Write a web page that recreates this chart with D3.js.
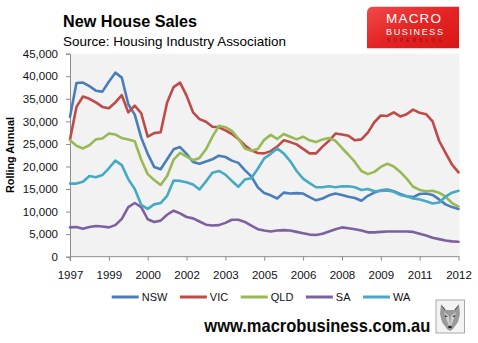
<!DOCTYPE html>
<html>
<head>
<meta charset="utf-8">
<script src="https://cdn.jsdelivr.net/npm/d3@7/dist/d3.min.js"></script>
<style>
  html, body { margin: 0; padding: 0; background: #ffffff; }
  svg { display: block; }
  text { font-family: "Liberation Sans", Arial, sans-serif; }
</style>
</head>
<body>
<svg id="chart" width="478" height="343"></svg>
<script>
// Rolling annual new house sales by state, quarterly from 1997 to 2012 (thousands)
const nsw = [31.0,38.5,38.6,37.8,36.8,36.6,38.8,40.8,39.7,33.8,31.5,26.4,22.8,19.9,19.4,21.6,23.8,24.3,22.8,21.0,
             20.6,21.1,21.6,22.4,22.1,21.3,20.8,19.2,17.8,15.4,14.1,13.6,12.9,14.2,14.0,14.1,14.0,13.2,12.5,12.9,
             13.6,14.0,13.7,13.3,13.0,12.4,13.5,14.2,14.7,14.9,14.5,13.9,13.4,13.2,13.9,14.0,13.7,12.7,11.6,11.0,10.6];
const vic = [26.0,33.2,35.5,35.0,34.2,33.2,32.9,34.2,35.8,32.0,33.5,31.8,26.6,27.4,27.6,34.2,37.6,38.6,35.7,32.0,
             30.5,29.9,28.8,28.7,28.0,27.2,26.1,24.7,23.6,23.0,22.9,23.4,24.4,25.8,25.4,24.9,23.9,22.9,22.9,24.4,
             25.7,27.3,27.1,26.8,25.8,26.0,27.5,29.8,31.3,31.2,32.0,31.1,31.6,32.6,31.9,31.6,30.0,25.7,23.0,20.4,18.7];
const qld = [25.8,24.6,24.0,24.7,26.0,26.2,27.3,27.1,26.3,26.0,25.6,21.5,18.3,17.0,15.9,17.9,21.5,23.0,22.2,21.4,
             21.9,23.8,26.6,29.0,28.7,27.9,26.2,24.0,23.5,23.9,25.9,27.0,26.1,27.2,26.6,26.0,26.6,25.8,25.4,26.0,
             26.3,25.7,24.1,22.6,21.0,19.0,18.3,18.8,19.9,20.6,20.0,18.8,17.3,15.5,14.8,14.5,14.6,14.2,13.3,11.9,11.1];
const sa  = [6.5,6.6,6.2,6.6,6.8,6.7,6.5,7.0,8.4,11.0,11.9,11.0,8.3,7.7,8.0,9.3,10.2,9.6,8.8,8.5,
             7.8,7.1,6.9,7.0,7.5,8.2,8.2,7.7,6.9,6.1,5.8,5.6,5.8,5.9,5.8,5.5,5.2,4.9,4.8,5.1,
             5.6,6.1,6.5,6.3,6.1,5.8,5.4,5.4,5.5,5.6,5.6,5.6,5.6,5.5,5.1,4.7,4.2,3.9,3.6,3.4,3.3];
const wa  = [16.2,16.2,16.6,17.9,17.6,18.1,19.6,21.3,20.3,17.2,15.0,11.5,10.6,11.6,11.9,13.5,16.9,16.8,16.5,16.0,
             14.9,16.7,18.6,19.0,18.2,16.8,15.5,17.1,17.4,19.5,21.8,22.8,24.0,22.9,21.2,19.0,17.3,16.3,15.4,15.4,
             15.6,15.4,15.6,15.6,15.4,14.8,15.0,14.5,14.6,14.7,14.4,13.7,13.4,12.9,12.7,12.3,11.8,12.0,13.3,14.2,14.6];

const seriesNames  = ["NSW", "VIC", "QLD", "SA", "WA"];
const seriesColors = ["#4a7ebb", "#be4b48", "#98b954", "#7d60a0", "#46aac5"];
const tickLabels = ["1997","1999","2000","2002","2003","2005","2006","2008","2009","2011","2012"];
const yTicks = [0,5000,10000,15000,20000,25000,30000,35000,40000,45000];

const series = [nsw, vic, qld, sa, wa].map((vals, i) => ({
  name: seriesNames[i],
  color: seriesColors[i],
  values: vals.map(v => v * 1000)
}));

const svg = d3.select("#chart");
const plot = { left: 70, right: 458.5, top: 53.7, bottom: 256.7 };

const nPoints = nsw.length;
const x = d3.scaleLinear().domain([0, nPoints - 1]).range([plot.left, plot.right]);
const y = d3.scaleLinear().domain([0, 45000]).range([plot.bottom, plot.top]);

// plot background
svg.append("rect")
  .attr("x", plot.left).attr("y", plot.top)
  .attr("width", 459.5 - plot.left).attr("height", plot.bottom - plot.top)
  .attr("fill", "#f2f2f2");

// y axis
const yAxis = svg.append("g")
  .attr("transform", `translate(${plot.left},0)`)
  .call(d3.axisLeft(y).tickValues(yTicks).tickFormat(d3.format(",")).tickSize(4).tickPadding(8));
yAxis.select(".domain").attr("stroke", "#8c8c8c");
yAxis.selectAll(".tick line").attr("stroke", "#8c8c8c");
yAxis.selectAll("text")
  .attr("font-size", "11.5px").attr("fill", "#111")
  .attr("font-family", "'Liberation Sans', Arial, sans-serif");

// x axis (one label every six quarters)
const xTickIdx = tickLabels.map((_, i) => i * 6);
const xAxis = svg.append("g")
  .attr("transform", `translate(0,${plot.bottom})`)
  .call(d3.axisBottom(x).tickValues(xTickIdx).tickFormat((d, i) => tickLabels[i]).tickSize(4).tickPadding(10));
xAxis.select(".domain").attr("stroke", "#8c8c8c").attr("d", `M${plot.left},4V0H459.5`);
xAxis.selectAll(".tick line").attr("stroke", "#8c8c8c");
xAxis.selectAll("text")
  .attr("font-size", "11.5px").attr("fill", "#111")
  .attr("font-family", "'Liberation Sans', Arial, sans-serif");

// series lines
const line = d3.line()
  .x((d, i) => x(i))
  .y(d => y(d));

svg.append("g").selectAll("path")
  .data(series)
  .join("path")
  .attr("d", d => line(d.values))
  .attr("fill", "none")
  .attr("stroke", d => d.color)
  .attr("stroke-width", 2.6)
  .attr("stroke-linejoin", "round")
  .attr("stroke-linecap", "round");

// titles
svg.append("text")
  .attr("x", 63).attr("y", 26.7)
  .attr("font-family", "Lato, 'Open Sans', sans-serif")
  .attr("font-weight", "bold").attr("font-size", "16.5px").attr("fill", "#000")
  .attr("textLength", 134).attr("lengthAdjust", "spacingAndGlyphs")
  .text("New House Sales");
svg.append("text")
  .attr("x", 63).attr("y", 46)
  .attr("font-family", "Lato, 'Open Sans', sans-serif")
  .attr("font-size", "13px").attr("fill", "#000")
  .attr("textLength", 223).attr("lengthAdjust", "spacingAndGlyphs")
  .text("Source: Housing Industry Association");

// y axis title
svg.append("text")
  .attr("transform", "translate(13.5,155) rotate(-90)")
  .attr("text-anchor", "middle")
  .attr("font-family", "Lato, 'Open Sans', sans-serif")
  .attr("font-weight", "bold").attr("font-size", "11px").attr("fill", "#000")
  .attr("textLength", 76).attr("lengthAdjust", "spacingAndGlyphs")
  .text("Rolling Annual");

// legend
const legend = svg.append("g").attr("transform", "translate(111.7,297)");
let lx = 0;
series.forEach(s => {
  const g = legend.append("g").attr("transform", `translate(${lx},0)`);
  g.append("line").attr("x1", 0).attr("x2", 27).attr("y1", 0).attr("y2", 0)
    .attr("stroke", s.color).attr("stroke-width", 3);
  const t = g.append("text").attr("x", 30).attr("y", 4)
    .attr("font-size", "11px").attr("fill", "#111")
    .text(s.name);
  lx += 30 + t.node().getComputedTextLength() + 12.5;
});

// brand badge
const defs = svg.append("defs");
const grad = defs.append("linearGradient").attr("id", "badgeRed")
  .attr("x1", "0").attr("y1", "0").attr("x2", "1").attr("y2", "1");
grad.append("stop").attr("offset", "0").attr("stop-color", "#f04a4a");
grad.append("stop").attr("offset", "0.5").attr("stop-color", "#e42424");
grad.append("stop").attr("offset", "1").attr("stop-color", "#d81616");
svg.append("path")
  .attr("d", "M372,6.7 H459 V48.3 H367 V13 Q367,7.5 372,6.7 Z")
  .attr("fill", "url(#badgeRed)");
svg.append("text")
  .attr("x", 386).attr("y", 23.3)
  .attr("font-family", "'Liberation Sans', Arial, sans-serif")
  .attr("font-size", "13.5px").attr("fill", "#fff")
  .attr("textLength", 55).attr("lengthAdjust", "spacing")
  .text("MACRO");
svg.append("text")
  .attr("x", 386).attr("y", 35)
  .attr("font-family", "'Liberation Sans', Arial, sans-serif")
  .attr("font-size", "9px").attr("fill", "#fff")
  .attr("textLength", 57).attr("lengthAdjust", "spacing")
  .text("BUSINESS");
svg.append("text")
  .attr("x", 387).attr("y", 41.5)
  .attr("font-family", "'Liberation Sans', Arial, sans-serif")
  .attr("font-size", "4.5px").attr("fill", "#8a0d0d")
  .attr("textLength", 55).attr("lengthAdjust", "spacing")
  .text("SUPERBLOG");

// footer address
svg.append("text")
  .attr("x", 204.3).attr("y", 331.7)
  .attr("font-family", "'Open Sans', sans-serif")
  .attr("font-weight", "bold").attr("font-size", "18.5px").attr("fill", "#0a0a0a")
  .attr("textLength", 226).attr("lengthAdjust", "spacingAndGlyphs")
  .text("www.macrobusiness.com.au");

// small wolf emblem
const emb = svg.append("g").attr("transform", "translate(436,300)");
emb.append("rect").attr("x", 0).attr("y", 0).attr("width", 28.5).attr("height", 33)
  .attr("fill", "#f3f3f3").attr("stroke", "#a8a8a8").attr("stroke-width", 1);
emb.append("path")
  .attr("d", "M5,4 L10,10 L18,10 L23,4 L24,14 L22,22 L17,29 L14,31 L11,29 L6,22 L4,14 Z")
  .attr("fill", "#9a9a9a");
emb.append("path")
  .attr("d", "M8,12 L13,16 L14,26 L15,16 L20,12 L17,21 L14,29 L11,21 Z")
  .attr("fill", "#cfcfcf");
emb.append("path").attr("d", "M9,15 L12,16.5 L9,17 Z").attr("fill", "#333");
emb.append("path").attr("d", "M19,15 L16,16.5 L19,17 Z").attr("fill", "#333");
emb.append("ellipse").attr("cx", 14).attr("cy", 27).attr("rx", 1.8).attr("ry", 1.2).attr("fill", "#222");
emb.append("path").attr("d", "M6,6 L9,10 M22,6 L19,10").attr("stroke", "#555").attr("stroke-width", 1);
</script>
</body>
</html>
